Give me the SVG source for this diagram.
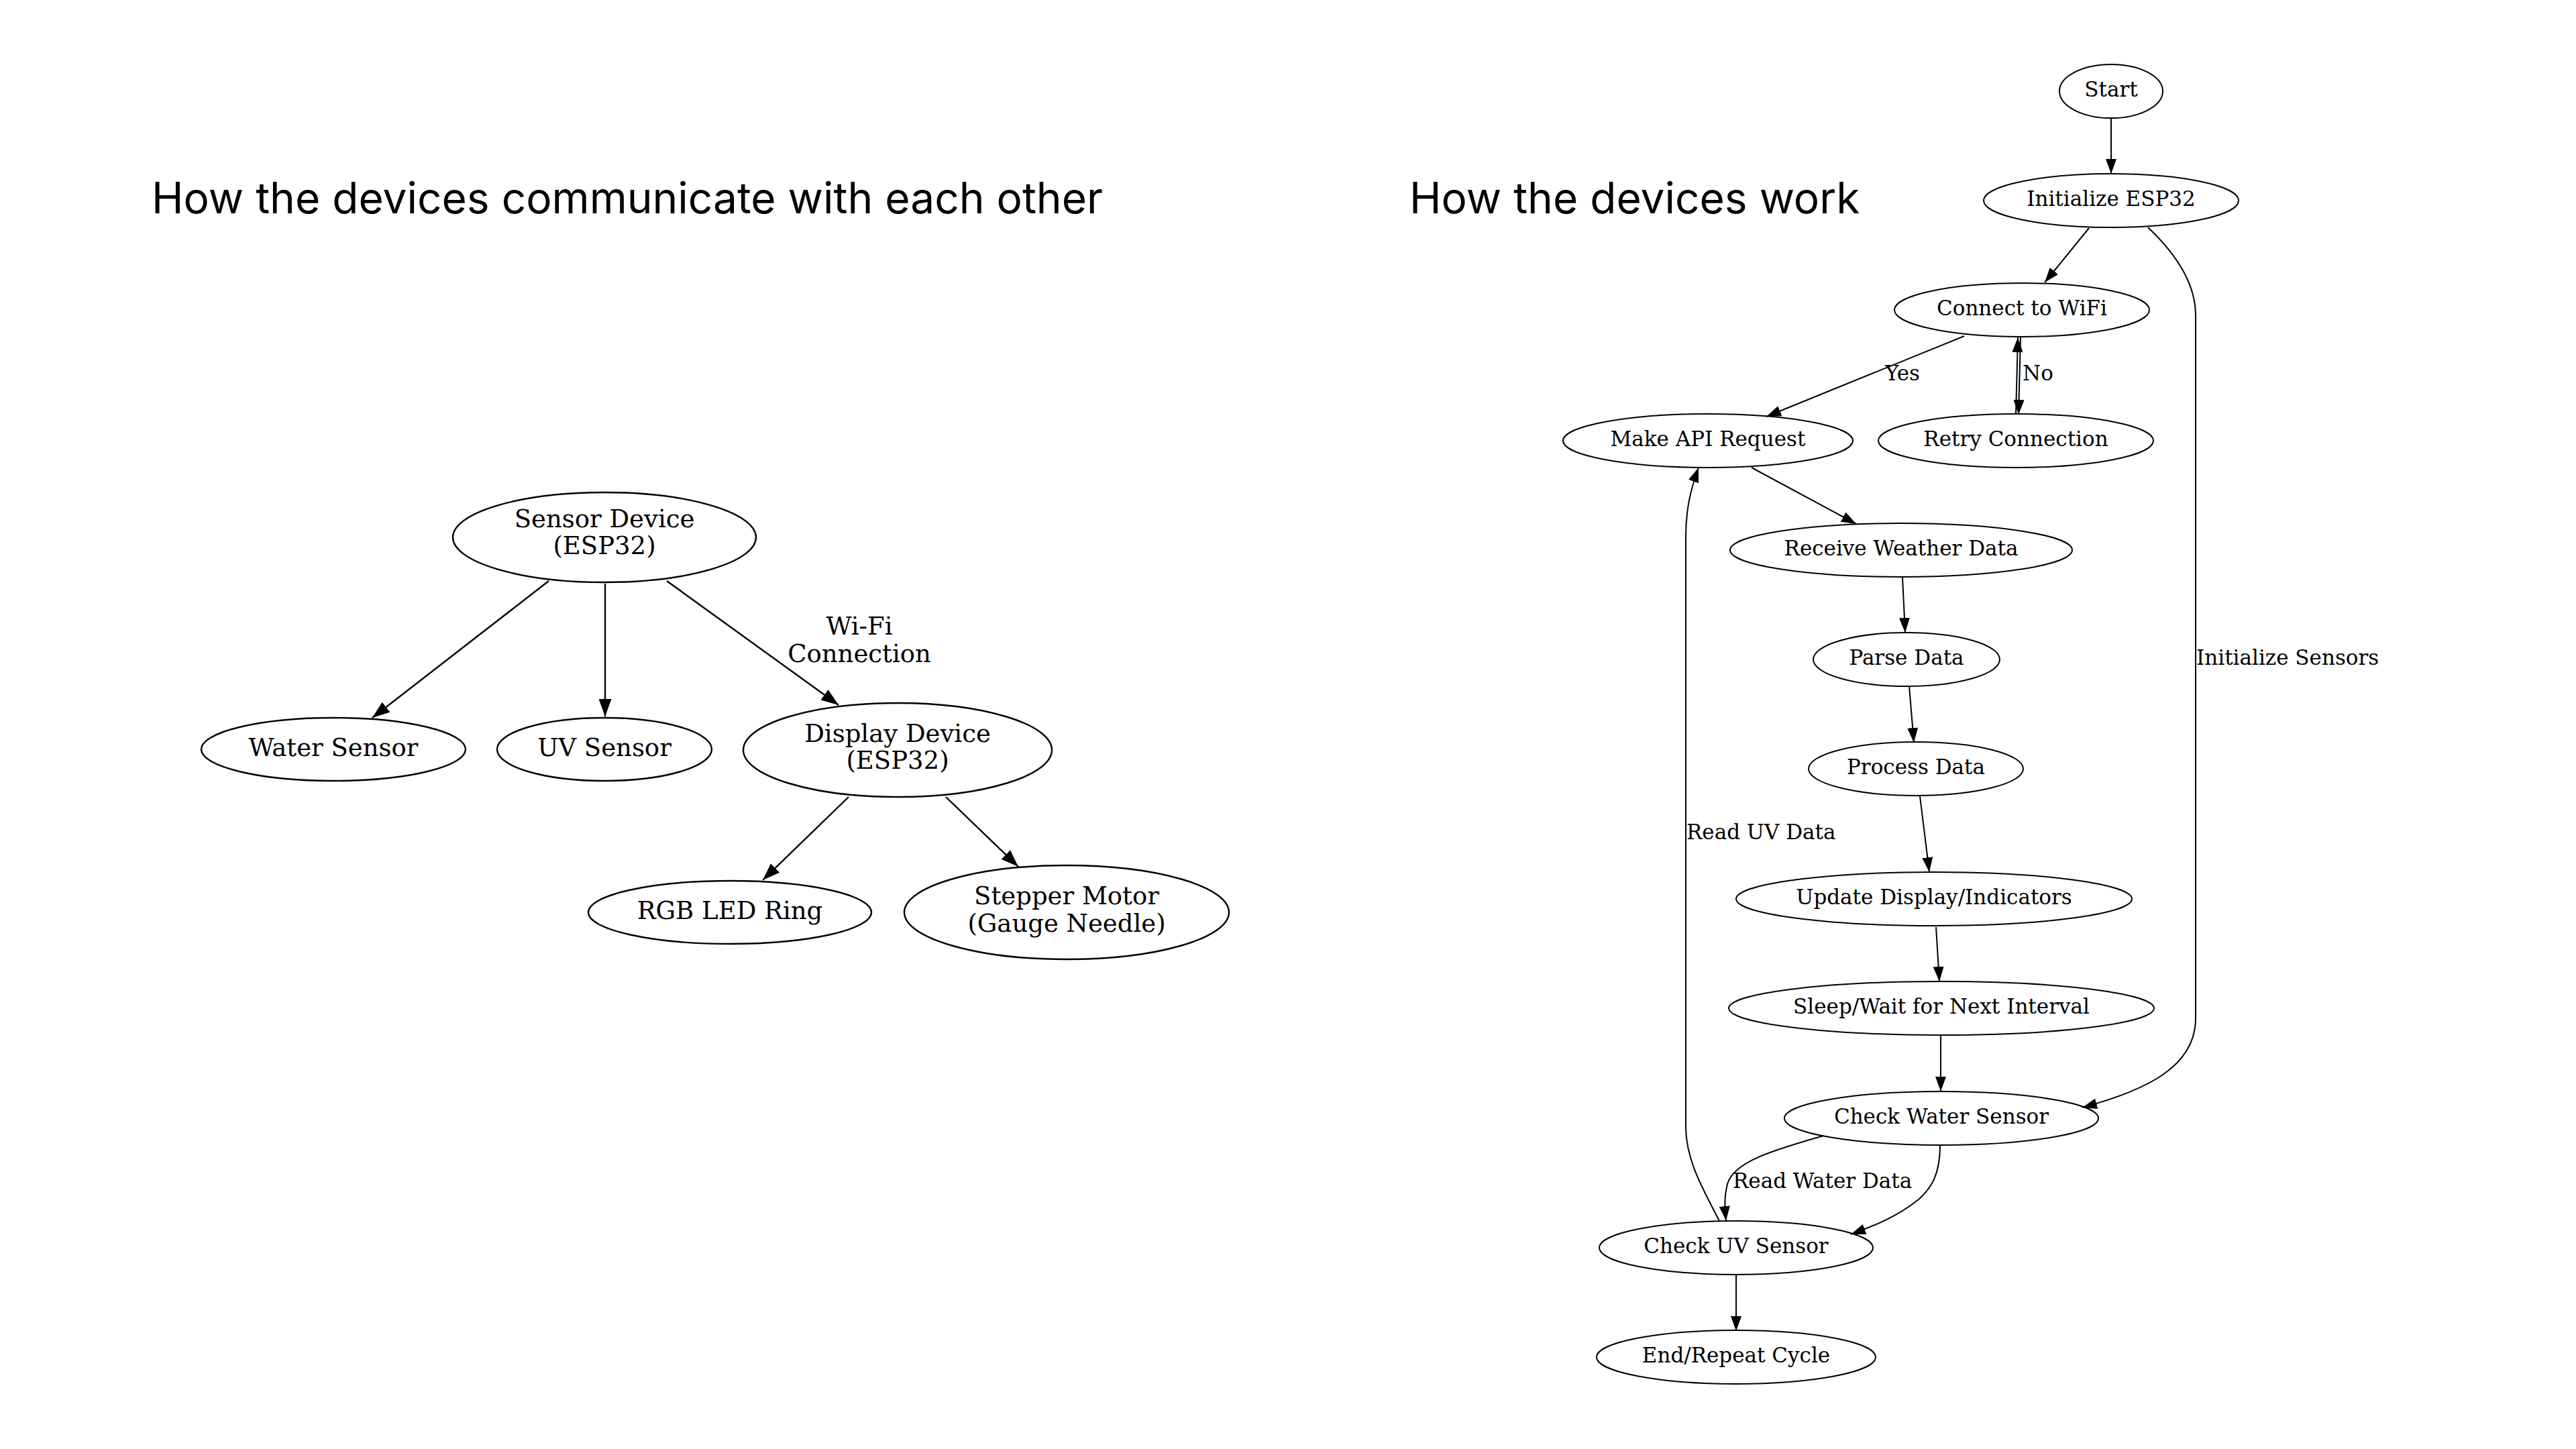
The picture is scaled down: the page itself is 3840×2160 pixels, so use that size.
<svg xmlns="http://www.w3.org/2000/svg" width="3840" height="2160" viewBox="0 0 3840 2160">
<defs>
<style>
.title{font-family:Inter,"Liberation Sans",sans-serif;font-size:64px;fill:#000}
.nodeL ellipse,.nodeR ellipse{fill:none;stroke:#000}
.nodeL ellipse{stroke-width:2.4}
.nodeR ellipse{stroke-width:2}
.tL{font-family:"DejaVu Serif",serif;font-size:37px;fill:#000;text-anchor:middle}
.tR{font-family:"DejaVu Serif",serif;font-size:31px;fill:#000;text-anchor:middle}
.eL{fill:none;stroke:#000;stroke-width:2.4;marker-end:url(#aL)}
.eR{fill:none;stroke:#000;stroke-width:2;marker-end:url(#aR)}
.lL{font-family:"DejaVu Serif",serif;font-size:37px;fill:#000;text-anchor:middle}
.lR{font-family:"DejaVu Serif",serif;font-size:31px;fill:#000}
</style>
<marker id="aL" viewBox="0 0 26 19" refX="26" refY="9.5" markerWidth="26" markerHeight="19" markerUnits="userSpaceOnUse" orient="auto"><path d="M0,0 L26,9.5 L0,19 z" fill="#000"/></marker>
<marker id="aR" viewBox="0 0 22 16" refX="22" refY="8" markerWidth="22" markerHeight="16" markerUnits="userSpaceOnUse" orient="auto"><path d="M0,0 L22,8 L0,16 z" fill="#000"/></marker>
</defs>
<rect width="3840" height="2160" fill="#fff"/>
<text class="title" x="226" y="318">How the devices communicate with each other</text>
<text class="title" x="2101" y="318">How the devices work</text>

<g id="connectors-left">
<path class="eL" d="M818,866 L555,1070"/>
<path class="eL" d="M902,870 L902,1068"/>
<path class="eL" d="M994,866 L1250,1051"/>
<path class="eL" d="M1265,1188 L1137,1312"/>
<path class="eL" d="M1410,1188 L1518,1292"/>
<text class="lL" x="1281" y="946">Wi-Fi</text>
<text class="lL" x="1281" y="987">Connection</text>
</g>

<g id="sensor-device" class="nodeL"><ellipse cx="901" cy="801" rx="226" ry="67"/><text class="tL" x="901" y="786">Sensor Device</text><text class="tL" x="901" y="826">(ESP32)</text></g>
<g id="water-sensor" class="nodeL"><ellipse cx="497" cy="1117" rx="197" ry="47"/><text class="tL" x="497" y="1127">Water Sensor</text></g>
<g id="uv-sensor" class="nodeL"><ellipse cx="901" cy="1117" rx="160" ry="47"/><text class="tL" x="901" y="1127">UV Sensor</text></g>
<g id="display-device" class="nodeL"><ellipse cx="1338" cy="1118" rx="230" ry="70"/><text class="tL" x="1338" y="1106">Display Device</text><text class="tL" x="1338" y="1146">(ESP32)</text></g>
<g id="rgb-led-ring" class="nodeL"><ellipse cx="1088" cy="1360" rx="211" ry="47"/><text class="tL" x="1088" y="1370">RGB LED Ring</text></g>
<g id="stepper-motor" class="nodeL"><ellipse cx="1590" cy="1360" rx="242" ry="70"/><text class="tL" x="1590" y="1348">Stepper Motor</text><text class="tL" x="1590" y="1389">(Gauge Needle)</text></g>

<g id="connectors-right">
<path class="eR" d="M3147,176 L3147,259"/>
<path class="eR" d="M3114,340 L3048,421"/>
<path class="eR" d="M3202,339 C3240,375 3273,420 3273,470 L3273,1518 C3273,1590 3200,1625 3104,1651"/>
<path class="eR" d="M2928,501 L2633,621"/>
<path class="eR" d="M3012,503 L3009,618"/>
<path class="eR" d="M3005,618 L3008,503"/>
<path class="eR" d="M2611,697 L2767,781"/>
<path class="eR" d="M2836,861 L2840,943"/>
<path class="eR" d="M2846,1023 L2853,1107"/>
<path class="eR" d="M2862,1187 L2876,1300"/>
<path class="eR" d="M2886,1382 L2891,1463"/>
<path class="eR" d="M2893,1544 L2893,1627"/>
<path class="eR" d="M2718,1693 C2650,1713 2585,1730 2575,1765 C2570,1785 2571,1800 2573,1820"/>
<path class="eR" d="M2892,1707 C2892,1750 2880,1770 2860,1788 C2830,1812 2800,1825 2759,1840"/>
<path class="eR" d="M2563,1820 C2540,1775 2513,1730 2513,1680 L2513,800 C2513,760 2520,730 2532,697"/>
<path class="eR" d="M2588,1900 L2588,1984"/>
<text class="lR" x="2810" y="567">Yes</text>
<text class="lR" x="3015" y="567">No</text>
<text class="lR" x="3274" y="991">Initialize Sensors</text>
<text class="lR" x="2514" y="1251">Read UV Data</text>
<text class="lR" x="2583" y="1771">Read Water Data</text>
</g>

<g id="start" class="nodeR"><ellipse cx="3147" cy="136" rx="77" ry="40"/><text class="tR" x="3147" y="144">Start</text></g>
<g id="initialize-esp32" class="nodeR"><ellipse cx="3147" cy="299" rx="190" ry="40"/><text class="tR" x="3147" y="307">Initialize ESP32</text></g>
<g id="connect-wifi" class="nodeR"><ellipse cx="3014" cy="462" rx="190" ry="40"/><text class="tR" x="3014" y="470">Connect to WiFi</text></g>
<g id="make-api-request" class="nodeR"><ellipse cx="2546" cy="657" rx="216" ry="40"/><text class="tR" x="2546" y="665">Make API Request</text></g>
<g id="retry-connection" class="nodeR"><ellipse cx="3005" cy="657" rx="205" ry="40"/><text class="tR" x="3005" y="665">Retry Connection</text></g>
<g id="receive-weather-data" class="nodeR"><ellipse cx="2834" cy="820" rx="255" ry="40"/><text class="tR" x="2834" y="828">Receive Weather Data</text></g>
<g id="parse-data" class="nodeR"><ellipse cx="2842" cy="983" rx="139" ry="40"/><text class="tR" x="2842" y="991">Parse Data</text></g>
<g id="process-data" class="nodeR"><ellipse cx="2856" cy="1146" rx="160" ry="40"/><text class="tR" x="2856" y="1154">Process Data</text></g>
<g id="update-display" class="nodeR"><ellipse cx="2883" cy="1340" rx="295" ry="40"/><text class="tR" x="2883" y="1348">Update Display/Indicators</text></g>
<g id="sleep-wait" class="nodeR"><ellipse cx="2894" cy="1503" rx="317" ry="40"/><text class="tR" x="2894" y="1511">Sleep/Wait for Next Interval</text></g>
<g id="check-water-sensor" class="nodeR"><ellipse cx="2894" cy="1667" rx="234" ry="40"/><text class="tR" x="2894" y="1675">Check Water Sensor</text></g>
<g id="check-uv-sensor" class="nodeR"><ellipse cx="2588" cy="1860" rx="204" ry="40"/><text class="tR" x="2588" y="1868">Check UV Sensor</text></g>
<g id="end-repeat-cycle" class="nodeR"><ellipse cx="2588" cy="2023" rx="208" ry="40"/><text class="tR" x="2588" y="2031">End/Repeat Cycle</text></g>
</svg>
